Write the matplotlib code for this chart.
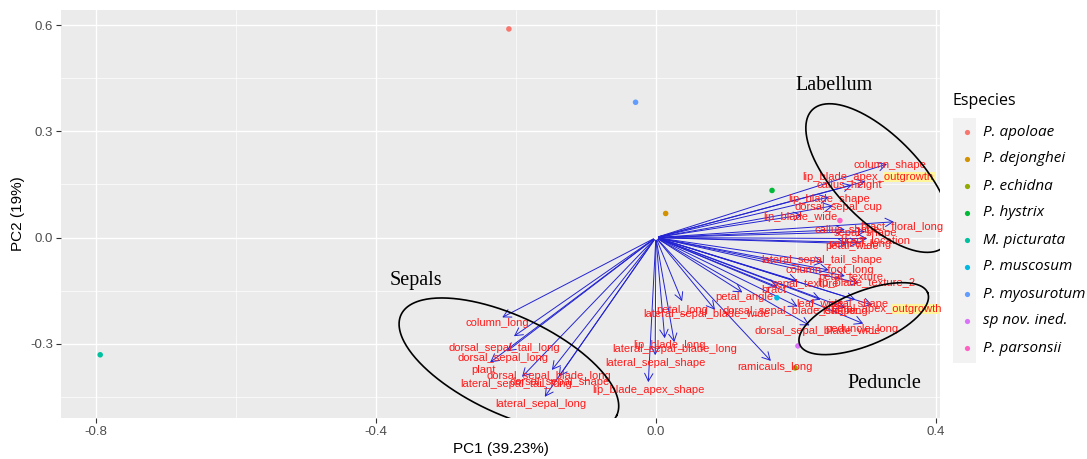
import numpy as np
import matplotlib
matplotlib.use('Agg')
import matplotlib.pyplot as plt
from matplotlib.patches import FancyArrowPatch, Rectangle
from matplotlib.transforms import IdentityTransform

# individuos (scores)
especies = ['P. apoloae', 'P. dejonghei', 'P. echidna', 'P. hystrix', 'M. picturata',
            'P. muscosum', 'P. myosurotum', 'sp nov. ined.', 'P. parsonsii']
colores = ['#F8766D', '#D39200', '#93AA00', '#00BA38', '#00C19F',
           '#00B9E3', '#619CFF', '#DB72FB', '#FF61C3']
pc1 = [-0.210, 0.014, 0.199, 0.166, -0.794, 0.173, -0.029, 0.203, 0.263]
pc2 = [0.589, 0.068, -0.368, 0.133, -0.331, -0.170, 0.382, -0.306, 0.048]

# variables (loadings) y posicion de etiquetas
variables = ['column_shape', 'lip_blade_apex_outgrowth', 'callus_height', 'lip_blade_shape',
             'dorsal_sepal_cup', 'lip_blade_wide', 'bract_floral_long', 'callus_shape',
             'sepal_shape', 'bract_location', 'petal_wide', 'pedicel_long',
             'lateral_sepal_tail_shape', 'column_foot_long', 'petal_texture',
             'lip_blade_texture_2', 'sepal_texture', 'bract', 'petal_angle', 'petal_long',
             'lateral_sepal_blade_wide', 'dorsal_sepal_blade_shape', 'leaf_wide', 'petal_shape',
             'petal_apex_outgrowth', 'leaf_long', 'dorsal_sepal_blade_wide', 'peduncle_long',
             'ramicauls_long', 'lip_blade_long', 'lateral_sepal_blade_long',
             'lateral_sepal_shape', 'lip_blade_apex_shape', 'column_long',
             'dorsal_sepal_tail_long', 'dorsal_sepal_long', 'plant', 'dorsal_sepal_blade_long',
             'lateral_sepal_tail_long', 'dorsal_sepal_shape', 'lateral_sepal_long']
load_x = [0.334, 0.303, 0.284, 0.251, 0.257, 0.213, 0.344, 0.274, 0.303, 0.306, 0.277, 0.294,
          0.243, 0.251, 0.274, 0.294, 0.206, 0.177, 0.127, 0.039, 0.087, 0.206, 0.239, 0.289,
          0.313, 0.274, 0.223, 0.300, 0.167, 0.013, 0.027, -0.001, -0.011, -0.223, -0.206,
          -0.216, -0.240, -0.151, -0.194, -0.141, -0.161]
load_y = [0.210, 0.161, 0.150, 0.116, 0.091, 0.065, 0.045, 0.023, 0.017, -0.003, -0.017, -0.014,
          -0.071, -0.093, -0.110, -0.130, -0.125, -0.142, -0.159, -0.187, -0.210, -0.198, -0.178,
          -0.178, -0.193, -0.201, -0.252, -0.246, -0.354, -0.292, -0.303, -0.340, -0.416, -0.229,
          -0.283, -0.326, -0.357, -0.380, -0.399, -0.399, -0.456]
lab_x = [0.334, 0.303, 0.277, 0.247, 0.261, 0.206, 0.351, 0.274, 0.300, 0.313, 0.280, 0.291,
         0.237, 0.249, 0.279, 0.300, 0.213, 0.169, 0.127, 0.037, 0.073, 0.191, 0.234, 0.289,
         0.330, 0.270, 0.231, 0.294, 0.170, 0.019, 0.027, -0.001, -0.011, -0.226, -0.216,
         -0.219, -0.246, -0.153, -0.199, -0.137, -0.164]
lab_y = [0.204, 0.170, 0.147, 0.110, 0.085, 0.059, 0.031, 0.020, 0.014, -0.008, -0.023, -0.017,
         -0.062, -0.093, -0.110, -0.127, -0.130, -0.147, -0.167, -0.204, -0.215, -0.207, -0.184,
         -0.187, -0.201, -0.207, -0.263, -0.258, -0.365, -0.303, -0.314, -0.354, -0.431, -0.241,
         -0.312, -0.340, -0.374, -0.391, -0.414, -0.408, -0.470]

# grupos marcados a mano: nombre, centro (datos), posicion del texto, semiejes (px), angulo
grupos = ['Labellum', 'Sepals', 'Peduncle']
grupo_centro = [(0.318, 0.168), (-0.210, -0.360), (0.297, -0.229)]
grupo_texto = [(0.254, 0.428), (-0.343, -0.122), (0.326, -0.411)]
grupo_ejes = [(95, 42), (119, 49), (69, 27)]
grupo_ang = [-46, -25, 22]

fig = plt.figure(figsize=(10.87, 4.59), dpi=100)
ax = fig.add_axes([61/1087, 41/459, 879/1087, 408/459])
ax.set_facecolor('#EBEBEB')
for s in ax.spines.values():
    s.set_visible(False)
ax.set_xlim(-0.850, 0.406)
ax.set_ylim(-0.5095, 0.6425)
ax.set_xticks([-0.8, -0.4, 0.0, 0.4])
ax.set_xticklabels(['-0.8', '-0.4', '0.0', '0.4'])
ax.set_yticks([-0.3, 0.0, 0.3, 0.6])
ax.set_yticklabels(['-0.3', '0.0', '0.3', '0.6'])
ax.set_xticks([-0.6, -0.2, 0.2], minor=True)
ax.set_yticks([-0.45, -0.15, 0.15, 0.45], minor=True)
ax.grid(which='major', color='white', lw=1.0)
ax.grid(which='minor', color='white', lw=0.5)
ax.set_axisbelow(True)
ax.tick_params(which='major', length=3.5, width=0.8, color='#333333',
               labelsize=9.5, labelcolor='#4D4D4D', pad=2)
ax.tick_params(which='minor', length=0)
for t in ax.get_xticklabels() + ax.get_yticklabels():
    t.set_family('Liberation Sans')
ax.set_xlabel('PC1 (39.23%)', fontsize=11, family='Liberation Sans', labelpad=3)
ax.set_ylabel('PC2 (19%)', fontsize=11, family='Liberation Sans', labelpad=4)

# flechas de las variables
for vx, vy in zip(load_x, load_y):
    ar = FancyArrowPatch((0, 0), (vx, vy), arrowstyle='->,head_length=0.55,head_width=0.3',
                         mutation_scale=10, color='#2323D2', lw=0.7, zorder=2)
    ax.add_patch(ar)

ax.scatter(pc1, pc2, c=colores, s=16, zorder=3, linewidths=0)

etiquetas = []
for nombre, lx, ly in zip(variables, lab_x, lab_y):
    t = ax.text(lx, ly, nombre, color='#FF1A1A', fontsize=8, family='Liberation Sans',
                ha='center', va='center', zorder=5)
    etiquetas.append(t)

# elipses y titulos de grupo
fig.canvas.draw()
for nombre, c, tp, ej, ang in zip(grupos, grupo_centro, grupo_texto, grupo_ejes, grupo_ang):
    cx, cy = ax.transData.transform(c)
    t = np.linspace(0, 2 * np.pi, 300)
    th = np.radians(ang)
    px = cx + ej[0] * np.cos(t) * np.cos(th) - ej[1] * np.sin(t) * np.sin(th)
    py = cy + ej[0] * np.cos(t) * np.sin(th) + ej[1] * np.sin(t) * np.cos(th)
    d = ax.transData.inverted().transform(np.column_stack([px, py]))
    ax.plot(d[:, 0], d[:, 1], color='black', lw=1.2, zorder=6)
    ax.text(tp[0], tp[1], nombre, fontsize=14.5, family='Liberation Serif',
            ha='center', va='center', zorder=6)

# resaltado amarillo de "outgrowth"
r = fig.canvas.get_renderer()
for t in etiquetas:
    if t.get_text().endswith('outgrowth'):
        bb = t.get_window_extent(r)
        tmp = ax.text(0, 0, 'outgrowth', fontsize=8, family='Liberation Sans')
        w = tmp.get_window_extent(r).width
        tmp.remove()
        rect = Rectangle((bb.x1 - w - 1, bb.y0), w + 3, bb.height, transform=IdentityTransform(),
                         facecolor='#FFF59A', edgecolor='none', zorder=4)
        ax.add_patch(rect)

# leyenda
lg = fig.add_axes([0, 0, 1, 1], facecolor='none')
lg.set_xlim(0, 1087)
lg.set_ylim(459, 0)
lg.axis('off')
lg.add_patch(Rectangle((953, 118), 23, 245, facecolor='#F2F2F2', edgecolor='none'))
lg.text(953, 101, 'Especies', fontsize=11.5, family='Open Sans', va='center', ha='left')
for i, (e, col) in enumerate(zip(especies, colores)):
    yy = 132 + 27 * i
    lg.scatter([967], [yy], s=14, c=col, linewidths=0)
    lg.text(983, yy, e, fontsize=11, family='Open Sans', style='italic', va='center', ha='left')

fig.savefig('out.png', dpi=100)
